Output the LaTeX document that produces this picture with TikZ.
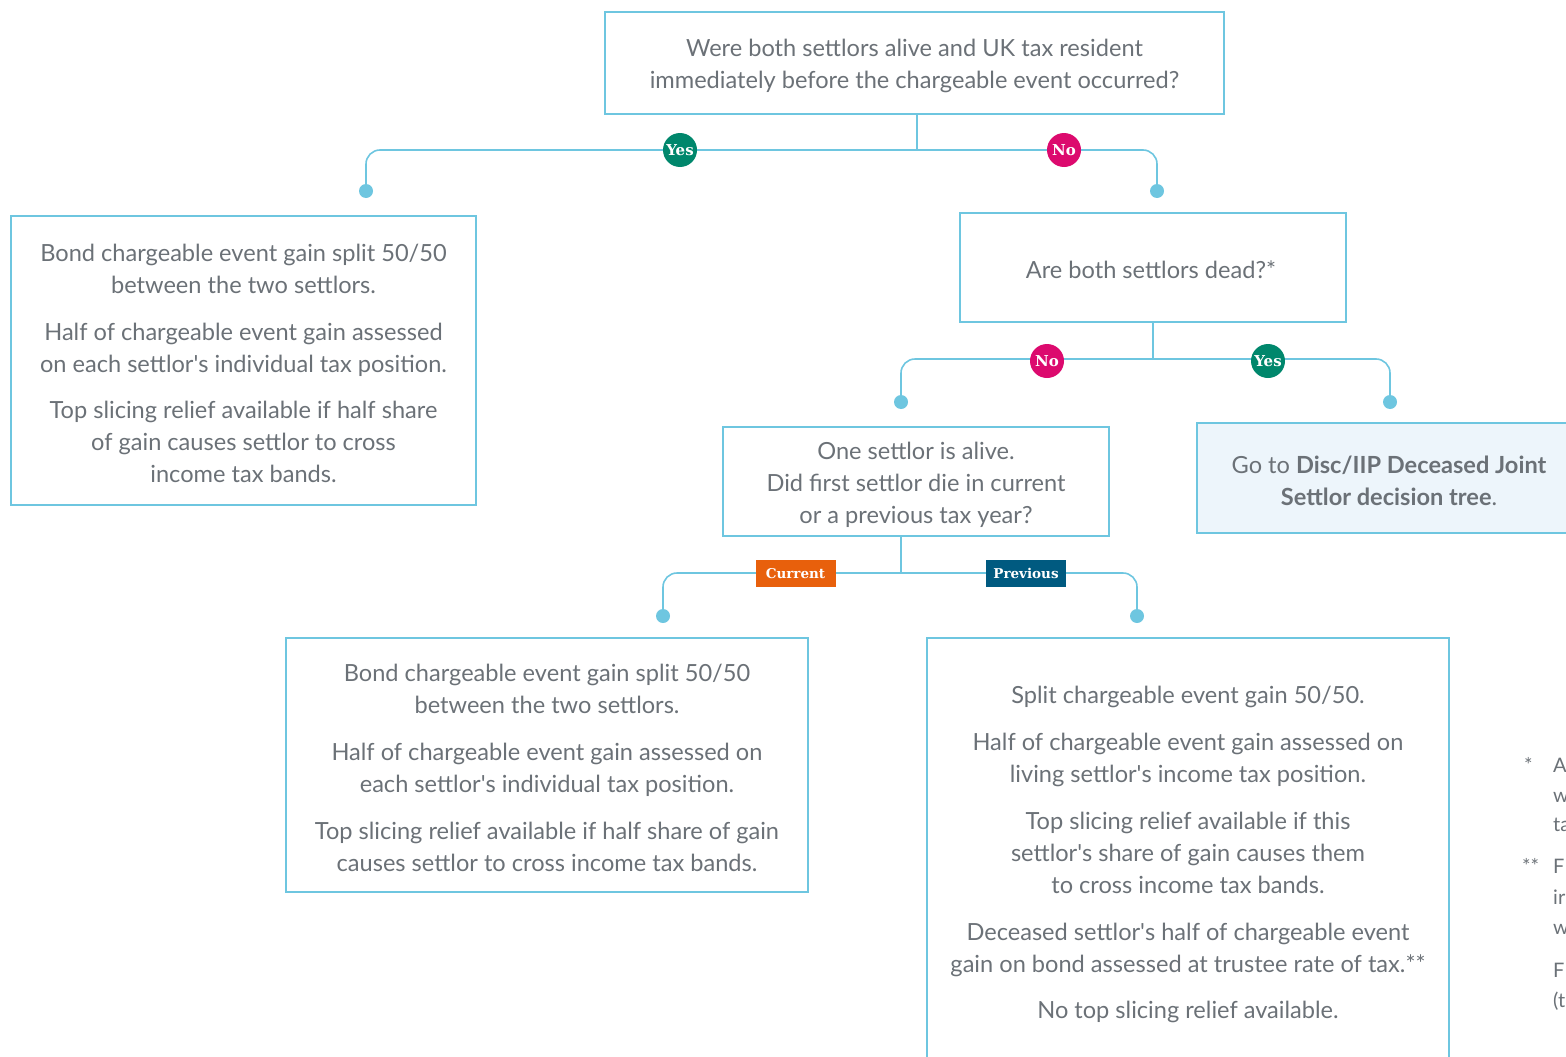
\documentclass[tikz,border=0pt]{standalone}
\usepackage{fontspec}
\setmainfont{Lato}
\newfontfamily\badgefont{DejaVu Serif}
\definecolor{lineblue}{HTML}{6EC6E0}
\definecolor{txtgrey}{HTML}{6B7177}
\definecolor{yesgreen}{HTML}{00876C}
\definecolor{nopink}{HTML}{DC0A6E}
\definecolor{curorange}{HTML}{E8600C}
\definecolor{prevblue}{HTML}{005A80}
\definecolor{linkfill}{HTML}{EDF5FB}
\newcommand{\bodyfont}{\fontsize{23.6}{32}\selectfont}
\newcommand{\badgetext}{\badgefont\bfseries\fontsize{15}{17}\selectfont}
\newcommand{\tagtext}{\badgefont\bfseries\fontsize{13.5}{15}\selectfont}
\newcommand{\notefont}{\fontsize{20}{30}\selectfont}
\newcommand{\ap}{\textquotesingle}
\tikzset{
  box/.style={draw=lineblue, line width=1.3pt, inner sep=0pt},
  body/.style={inner sep=0pt, align=center, text=txtgrey, font=\bodyfont},
  conn/.style={draw=lineblue, line width=1.6pt, rounded corners=14pt},
  enddot/.style={circle, fill=lineblue, minimum size=14pt, inner sep=0pt},
  roundbadge/.style={circle, text=white, font=\badgetext, minimum size=34pt, inner sep=0pt},
  yesbadge/.style={roundbadge, fill=yesgreen},
  nobadge/.style={roundbadge, fill=nopink},
  tagbadge/.style={rectangle, text=white, font=\tagtext, minimum width=80pt,
    minimum height=27pt, inner sep=0pt},
  note/.style={inner sep=0pt, anchor=base west, text=txtgrey, font=\notefont}
}
\begin{document}
\begin{tikzpicture}[x=1pt,y=-1pt]
\useasboundingbox (0,0) rectangle (1566,1057);
\clip (0,0) rectangle (1566,1057);

% frames of the question and outcome boxes
\node[box, minimum width=619pt, minimum height=102pt] (q1) at (914.5,63) {};
\node[box, minimum width=465pt, minimum height=289pt] (a1) at (243.5,360.5) {};
\node[box, minimum width=386pt, minimum height=109pt] (q2) at (1153,267.5) {};
\node[box, minimum width=386pt, minimum height=109pt] (q3) at (916,481.5) {};
\node[box, fill=linkfill, minimum width=383pt, minimum height=110pt] (a2) at (1388.5,478) {};
\node[box, minimum width=522pt, minimum height=254pt] (a3) at (547,765) {};
\node[box, minimum width=522pt, minimum height=437pt] (a4) at (1188,856.5) {};

% box texts
\node[body] (q1t) at (914.5,66)
  {Were both settlors alive and UK tax resident\\immediately before the chargeable event occurred?};
\node[body] (a1t) at (243.5,363)
  {Bond chargeable event gain split 50/50\\between the two settlors.\\[15pt]
   Half of chargeable event gain assessed\\on each settlor\ap s individual tax position.\\[14pt]
   Top slicing relief available if half share\\of gain causes settlor to cross\\income tax bands.};
\node[body] (q2t) at (1151,270) {Are both settlors dead?*};
\node[body] (q3t) at (916,484.5)
  {One settlor is alive.\\Did first settlor die in current\\or a previous tax year?};
\node[body] (a2t) at (1389,481)
  {Go to \textbf{Disc/IIP Deceased Joint}\\\textbf{Settlor decision tree}.};
\node[body] (a3t) at (547,768)
  {Bond chargeable event gain split 50/50\\between the two settlors.\\[15pt]
   Half of chargeable event gain assessed on\\each settlor\ap s individual tax position.\\[15pt]
   Top slicing relief available if half share of gain\\causes settlor to cross income tax bands.};
\node[body] (a4t) at (1188,854)
  {Split chargeable event gain 50/50.\\[15pt]
   Half of chargeable event gain assessed on\\living settlor\ap s income tax position.\\[15pt]
   Top slicing relief available if this\\settlor\ap s share of gain causes them\\to cross income tax bands.\\[15pt]
   Deceased settlor\ap s half of chargeable event\\gain on bond assessed at trustee rate of tax.**\\[14pt]
   No top slicing relief available.};

% first split
\coordinate (j1) at (917,150);
\node[enddot] (d1) at (366,191) {};
\node[enddot] (d2) at (1157,191) {};
\draw[conn] (j1 |- q1.south) -- (j1);
\draw[conn] (d1) |- (j1) -| (d2);
\node[yesbadge] (y1) at (680,150) {Yes};
\node[nobadge] (n1) at (1064,150) {No};

% second split
\coordinate (j2) at (1153,359);
\node[enddot] (d3) at (901,402) {};
\node[enddot] (d4) at (1390,402) {};
\draw[conn] (q2.south) -- (j2);
\draw[conn] (d3) |- (j2) -| (d4);
\node[nobadge] (n2) at (1047,361) {No};
\node[yesbadge] (y2) at (1268,361) {Yes};

% third split
\coordinate (j3) at (901,573);
\node[enddot] (d5) at (663,616) {};
\node[enddot] (d6) at (1137,616) {};
\draw[conn] (j3 |- q3.south) -- (j3);
\draw[conn] (d5) |- (j3) -| (d6);
\node[tagbadge, fill=curorange] (c1) at (795.5,573.5) {Current};
\node[tagbadge, fill=prevblue] (p1) at (1026,573.5) {Previous};

% footnotes running off the right edge
\node[note] (f1) at (1524,772) {*};
\node[note] (f1a) at (1553,772) {A};
\node[note] (f1b) at (1553,802) {w};
\node[note] (f1c) at (1553,831) {ta};
\node[note] (f2) at (1522,873) {**};
\node[note] (f2a) at (1553,873) {F};
\node[note] (f2b) at (1553,904) {ir};
\node[note] (f2c) at (1553,934) {w};
\node[note] (f3a) at (1553,977) {F};
\node[note] (f3b) at (1553,1007) {(t};
\end{tikzpicture}
\end{document}
